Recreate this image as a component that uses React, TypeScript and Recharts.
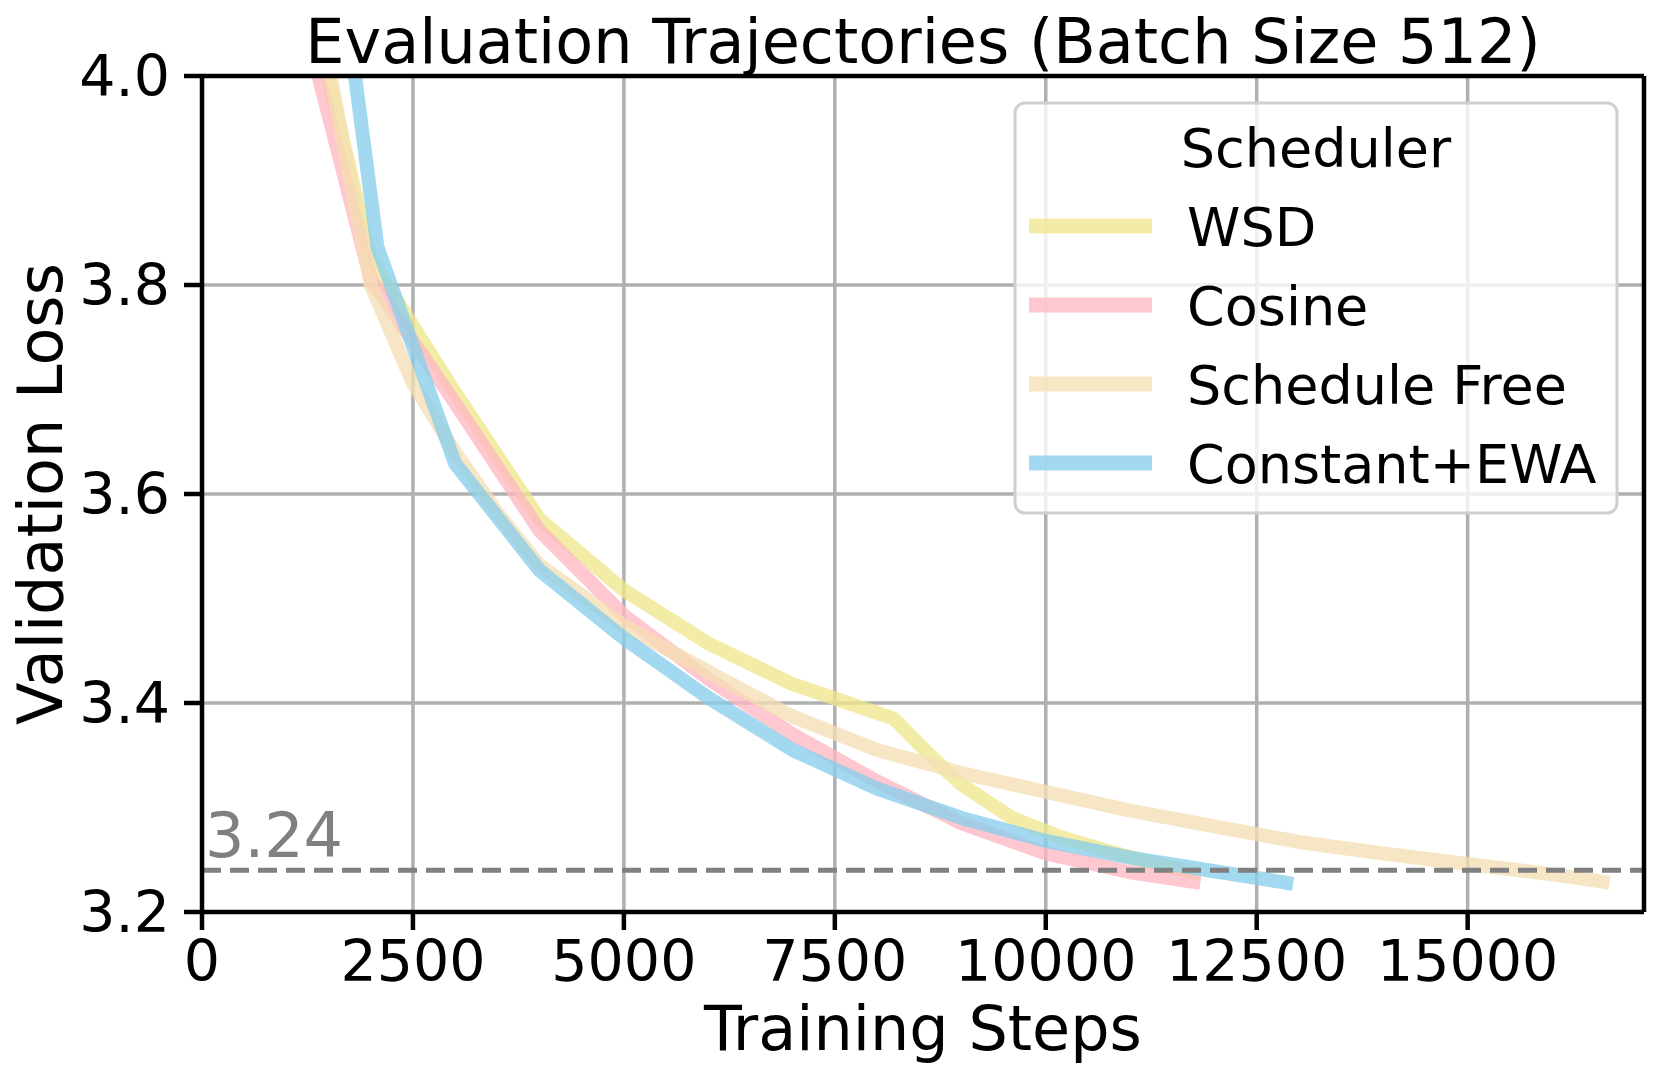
import React from 'react'
import { LineChart, Line, XAxis, YAxis, CartesianGrid, ReferenceLine, Label } from 'recharts'

const FONT = '"DejaVu Sans", sans-serif'
const WIDTH = 1660
const HEIGHT = 1078
const PLOT_LEFT = 202
const PLOT_TOP = 76
const PLOT_RIGHT = 1644
const PLOT_BOTTOM = 912

const X_MAX = 17090
const X_TICKS = [0, 2500, 5000, 7500, 10000, 12500, 15000]
const Y_TICKS = [3.2, 3.4, 3.6, 3.8, 4.0]
const TARGET_LOSS = 3.24

const WSD_STEPS = [1000, 2000, 3000, 4000, 5000, 6000, 7000, 8200, 8600, 9000, 9600, 10200, 10800, 11300, 11750]
const WSD_LOSS = [4.17, 3.825, 3.697, 3.576, 3.508, 3.457, 3.418, 3.385, 3.352, 3.322, 3.29, 3.271, 3.257, 3.246, 3.238]

const COSINE_STEPS = [1000, 2000, 3000, 4000, 5000, 6000, 7000, 8000, 9000, 10000, 11000, 11750]
const COSINE_LOSS = [4.12, 3.805, 3.687, 3.565, 3.484, 3.423, 3.37, 3.325, 3.285, 3.256, 3.238, 3.229]

const SF_STEPS = [1000, 2000, 2500, 3000, 3500, 4000, 5000, 6000, 7000, 8000, 9000, 10000, 11000, 12000, 13000, 14000, 15000, 16000, 16600]
const SF_LOSS = [4.22, 3.8, 3.706, 3.64, 3.582, 3.532, 3.474, 3.43, 3.387, 3.355, 3.333, 3.315, 3.297, 3.282, 3.267, 3.256, 3.246, 3.236, 3.229]

const EWA_STEPS = [1000, 2080, 3000, 4000, 5000, 6000, 7000, 8000, 9000, 10000, 11000, 12000, 12850]
const EWA_LOSS = [4.5, 3.836, 3.629, 3.527, 3.462, 3.405, 3.355, 3.318, 3.29, 3.268, 3.252, 3.239, 3.228]

const toPoints = (steps: number[], loss: number[]) => steps.map((step, i) => ({ step, loss: loss[i] }))

const SERIES = [
  { name: 'WSD', color: '#f0e68c', data: toPoints(WSD_STEPS, WSD_LOSS) },
  { name: 'Cosine', color: '#ffb6c1', data: toPoints(COSINE_STEPS, COSINE_LOSS) },
  { name: 'Schedule Free', color: '#f5deb3', data: toPoints(SF_STEPS, SF_LOSS) },
  { name: 'Constant+EWA', color: '#87ceeb', data: toPoints(EWA_STEPS, EWA_LOSS) },
]

const LINE_ALPHA = 0.77

function TargetLabel(props: any) {
  const { viewBox } = props
  if (!viewBox) return null
  return (
    <text x={viewBox.x + 3} y={viewBox.y - 13} fill="#808080" fontSize={62} fontFamily={FONT}>
      {TARGET_LOSS.toFixed(2)}
    </text>
  )
}

function YLabel(props: any) {
  const vb = props.viewBox || { x: 0, y: PLOT_TOP, height: PLOT_BOTTOM - PLOT_TOP }
  const cx = 62
  const cy = vb.y + vb.height / 2
  return (
    <text x={cx} y={cy} transform={`rotate(-90 ${cx} ${cy})`} textAnchor="middle" fontSize={62} fill="#000" fontFamily={FONT}>
      Validation Loss
    </text>
  )
}

function Overlay() {
  const lx = 1015
  const ly = 103
  return (
    <svg width={WIDTH} height={HEIGHT} style={{ position: 'absolute', left: 0, top: 0, pointerEvents: 'none' }}>
      <text x={(PLOT_LEFT + PLOT_RIGHT) / 2} y={63} textAnchor="middle" fontSize={62} fontFamily={FONT} fill="#000">
        Evaluation Trajectories (Batch Size 512)
      </text>
      <rect x={lx} y={ly} width={602} height={410} rx={10} fill="#fff" fillOpacity={0.8} stroke="#d0d0d0" strokeWidth={3} />
      <text x={lx + 301} y={167} textAnchor="middle" fontSize={54} fontFamily={FONT} fill="#000">
        Scheduler
      </text>
      {SERIES.map((s, i) => {
        const y = 226 + i * 79
        return (
          <g key={s.name}>
            <line x1={1029} x2={1152} y1={y} y2={y} stroke={s.color} strokeOpacity={LINE_ALPHA} strokeWidth={15} />
            <text x={1187} y={y + 20} fontSize={54} fontFamily={FONT} fill="#000">
              {s.name}
            </text>
          </g>
        )
      })}
    </svg>
  )
}

export default function App() {
  const tickStyle = { fill: '#000', fontSize: 57, fontFamily: FONT }
  return (
    <div style={{ position: 'relative', width: WIDTH, height: HEIGHT, fontFamily: FONT, background: '#fff' }}>
      <style>{'body{margin:0}'}</style>
      <LineChart
        width={WIDTH}
        height={HEIGHT}
        margin={{ top: PLOT_TOP, right: WIDTH - PLOT_RIGHT, bottom: 0, left: 0 }}
      >
        <CartesianGrid stroke="#b0b0b0" strokeWidth={3.5} />
        <XAxis
          type="number"
          dataKey="step"
          domain={[0, X_MAX]}
          ticks={X_TICKS}
          interval={0}
          allowDataOverflow
          height={HEIGHT - PLOT_BOTTOM}
          tickSize={18}
          tickMargin={11}
          tick={tickStyle}
          axisLine={{ stroke: '#000', strokeWidth: 4.5 }}
          tickLine={{ stroke: '#000', strokeWidth: 4.5 }}
        >
          <Label value="Training Steps" position="insideBottom" offset={28} fontSize={62} fill="#000" fontFamily={FONT} />
        </XAxis>
        <YAxis
          type="number"
          dataKey="loss"
          domain={[3.2, 4.0]}
          ticks={Y_TICKS}
          interval={0}
          allowDataOverflow
          width={PLOT_LEFT}
          tickSize={18}
          tickMargin={14}
          tick={tickStyle}
          tickFormatter={(v: number) => v.toFixed(1)}
          axisLine={{ stroke: '#000', strokeWidth: 4.5 }}
          tickLine={{ stroke: '#000', strokeWidth: 4.5 }}
        >
          <Label content={YLabel} />
        </YAxis>
        {SERIES.map((s) => (
          <Line
            key={s.name}
            data={s.data}
            dataKey="loss"
            name={s.name}
            type="linear"
            stroke={s.color}
            strokeOpacity={LINE_ALPHA}
            strokeWidth={14}
            strokeLinecap="square"
            strokeLinejoin="round"
            dot={false}
            activeDot={false}
            isAnimationActive={false}
          />
        ))}
        <ReferenceLine
          y={TARGET_LOSS}
          stroke="#808080"
          strokeWidth={5}
          strokeDasharray="19 9"
          label={<TargetLabel />}
        />
        <ReferenceLine y={4.0} stroke="#000" strokeWidth={4.5} />
        <ReferenceLine x={X_MAX} stroke="#000" strokeWidth={4.5} />
      </LineChart>
      <Overlay />
    </div>
  )
}
